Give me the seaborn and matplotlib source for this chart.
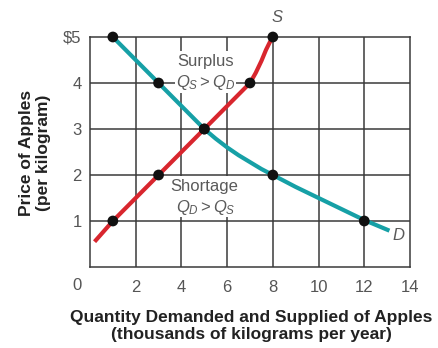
import matplotlib
matplotlib.use("Agg")
import matplotlib.pyplot as plt
import seaborn as sns
import pandas as pd

# --- data ---
supply_curve_q = [0.2, 1, 3, 5, 7, 7.25, 7.5, 7.7, 7.86, 8]
supply_curve_p = [0.55, 1, 2, 3, 4, 4.22, 4.48, 4.72, 4.88, 5]
demand_curve_q = [1, 3, 5, 5.5, 6, 6.5, 7, 7.5, 8, 9, 10, 11, 12, 13.1]
demand_curve_p = [5, 4, 3, 2.79, 2.6, 2.43, 2.28, 2.13, 2.0, 1.74, 1.5, 1.26, 1.02, 0.79]
supply_pts_q = [1, 3, 5, 7, 8]
supply_pts_p = [1, 2, 3, 4, 5]
demand_pts_q = [1, 3, 5, 8, 12]
demand_pts_p = [5, 4, 3, 2, 1]
x_ticks = [2, 4, 6, 8, 10, 12, 14]
y_ticks = [1, 2, 3, 4, 5]
y_tick_labels = ["1", "2", "3", "4", "$5"]

sns.set_style("white")
plt.rcParams["font.family"] = ["Liberation Sans", "DejaVu Sans"]
plt.rcParams["mathtext.fontset"] = "custom"
plt.rcParams["mathtext.rm"] = "Liberation Sans"
plt.rcParams["mathtext.it"] = "Liberation Sans:italic"

fig = plt.figure(figsize=(4.38, 3.48), dpi=100)
ax = fig.add_axes([90/438, 81/348, 320/438, 230/348])

grid_c = "#3a3a3a"
for x in x_ticks[:-1]:
    ax.axvline(x, color=grid_c, lw=1.1, zorder=1)
for y in y_ticks[:-1]:
    ax.axhline(y, color=grid_c, lw=1.1, zorder=1)
for s in ax.spines.values():
    s.set_color(grid_c)
    s.set_linewidth(1.1)

sup = pd.DataFrame({"q": supply_curve_q, "p": supply_curve_p})
dem = pd.DataFrame({"q": demand_curve_q, "p": demand_curve_p})
sns.lineplot(data=sup, x="q", y="p", sort=False, color="#d8262e", lw=3.0,
             ax=ax, zorder=3, clip_on=False, solid_capstyle="butt",
             solid_joinstyle="round")
sns.lineplot(data=dem, x="q", y="p", sort=False, color="#16a0a6", lw=3.0,
             ax=ax, zorder=3, clip_on=False, solid_capstyle="butt",
             solid_joinstyle="round")

pts = pd.DataFrame({"q": supply_pts_q + demand_pts_q,
                    "p": supply_pts_p + demand_pts_p})
sns.scatterplot(data=pts, x="q", y="p", color="#111111", s=60,
                edgecolor="none", ax=ax, zorder=5, clip_on=False)

ax.set_xlim(0, 14)
ax.set_ylim(0, 5)
ax.set_xticks(x_ticks)
ax.set_yticks(y_ticks)
ax.set_yticklabels(y_tick_labels)
ax.tick_params(axis="both", length=0, labelsize=12, labelcolor="#555555")
ax.tick_params(axis="x", pad=9)
ax.tick_params(axis="y", pad=6)
ax.set_xlabel("")
ax.set_ylabel("")
fig.text(77/438, 1 - 285/348, "0", ha="center", va="center",
         fontsize=12, color="#555555")

tc = "#5a5a5a"
bbox = dict(facecolor="white", edgecolor="none", pad=2.5)
ax.text(5.05, 4.46, "Surplus", ha="center", va="center", fontsize=12,
        color=tc, zorder=4, bbox=bbox)
ax.text(5.05, 4.0, r"$Q_S >Q_D$", ha="center", va="center", fontsize=12,
        color=tc, zorder=4, bbox=dict(facecolor="white", edgecolor="none", pad=0.5))
ax.text(5.0, 1.74, "Shortage", ha="center", va="center", fontsize=12,
        color=tc, zorder=4, bbox=bbox)
ax.text(5.05, 1.3, r"$Q_D >Q_S$", ha="center", va="center", fontsize=12,
        color=tc, zorder=4, bbox=dict(facecolor="white", edgecolor="none", pad=0.5))
ax.text(8.2, 5.43, "S", ha="center", va="center", fontsize=12,
        color=tc, style="italic", clip_on=False)
ax.text(13.5, 0.68, "D", ha="center", va="center", fontsize=12,
        color=tc, style="italic", clip_on=False)

fig.text(251/438, 1 - 326/348,
         "Quantity Demanded and Supplied of Apples\n(thousands of kilograms per year)",
         ha="center", va="center", fontsize=12.5, fontweight="bold",
         color="#222222", linespacing=1.2)
fig.text(35/438, 1 - 153/348, "Price of Apples\n(per kilogram)",
         ha="center", va="center", rotation=90, fontsize=12.5,
         fontweight="bold", color="#222222", linespacing=1.12)

fig.savefig("out.png", dpi=100)
